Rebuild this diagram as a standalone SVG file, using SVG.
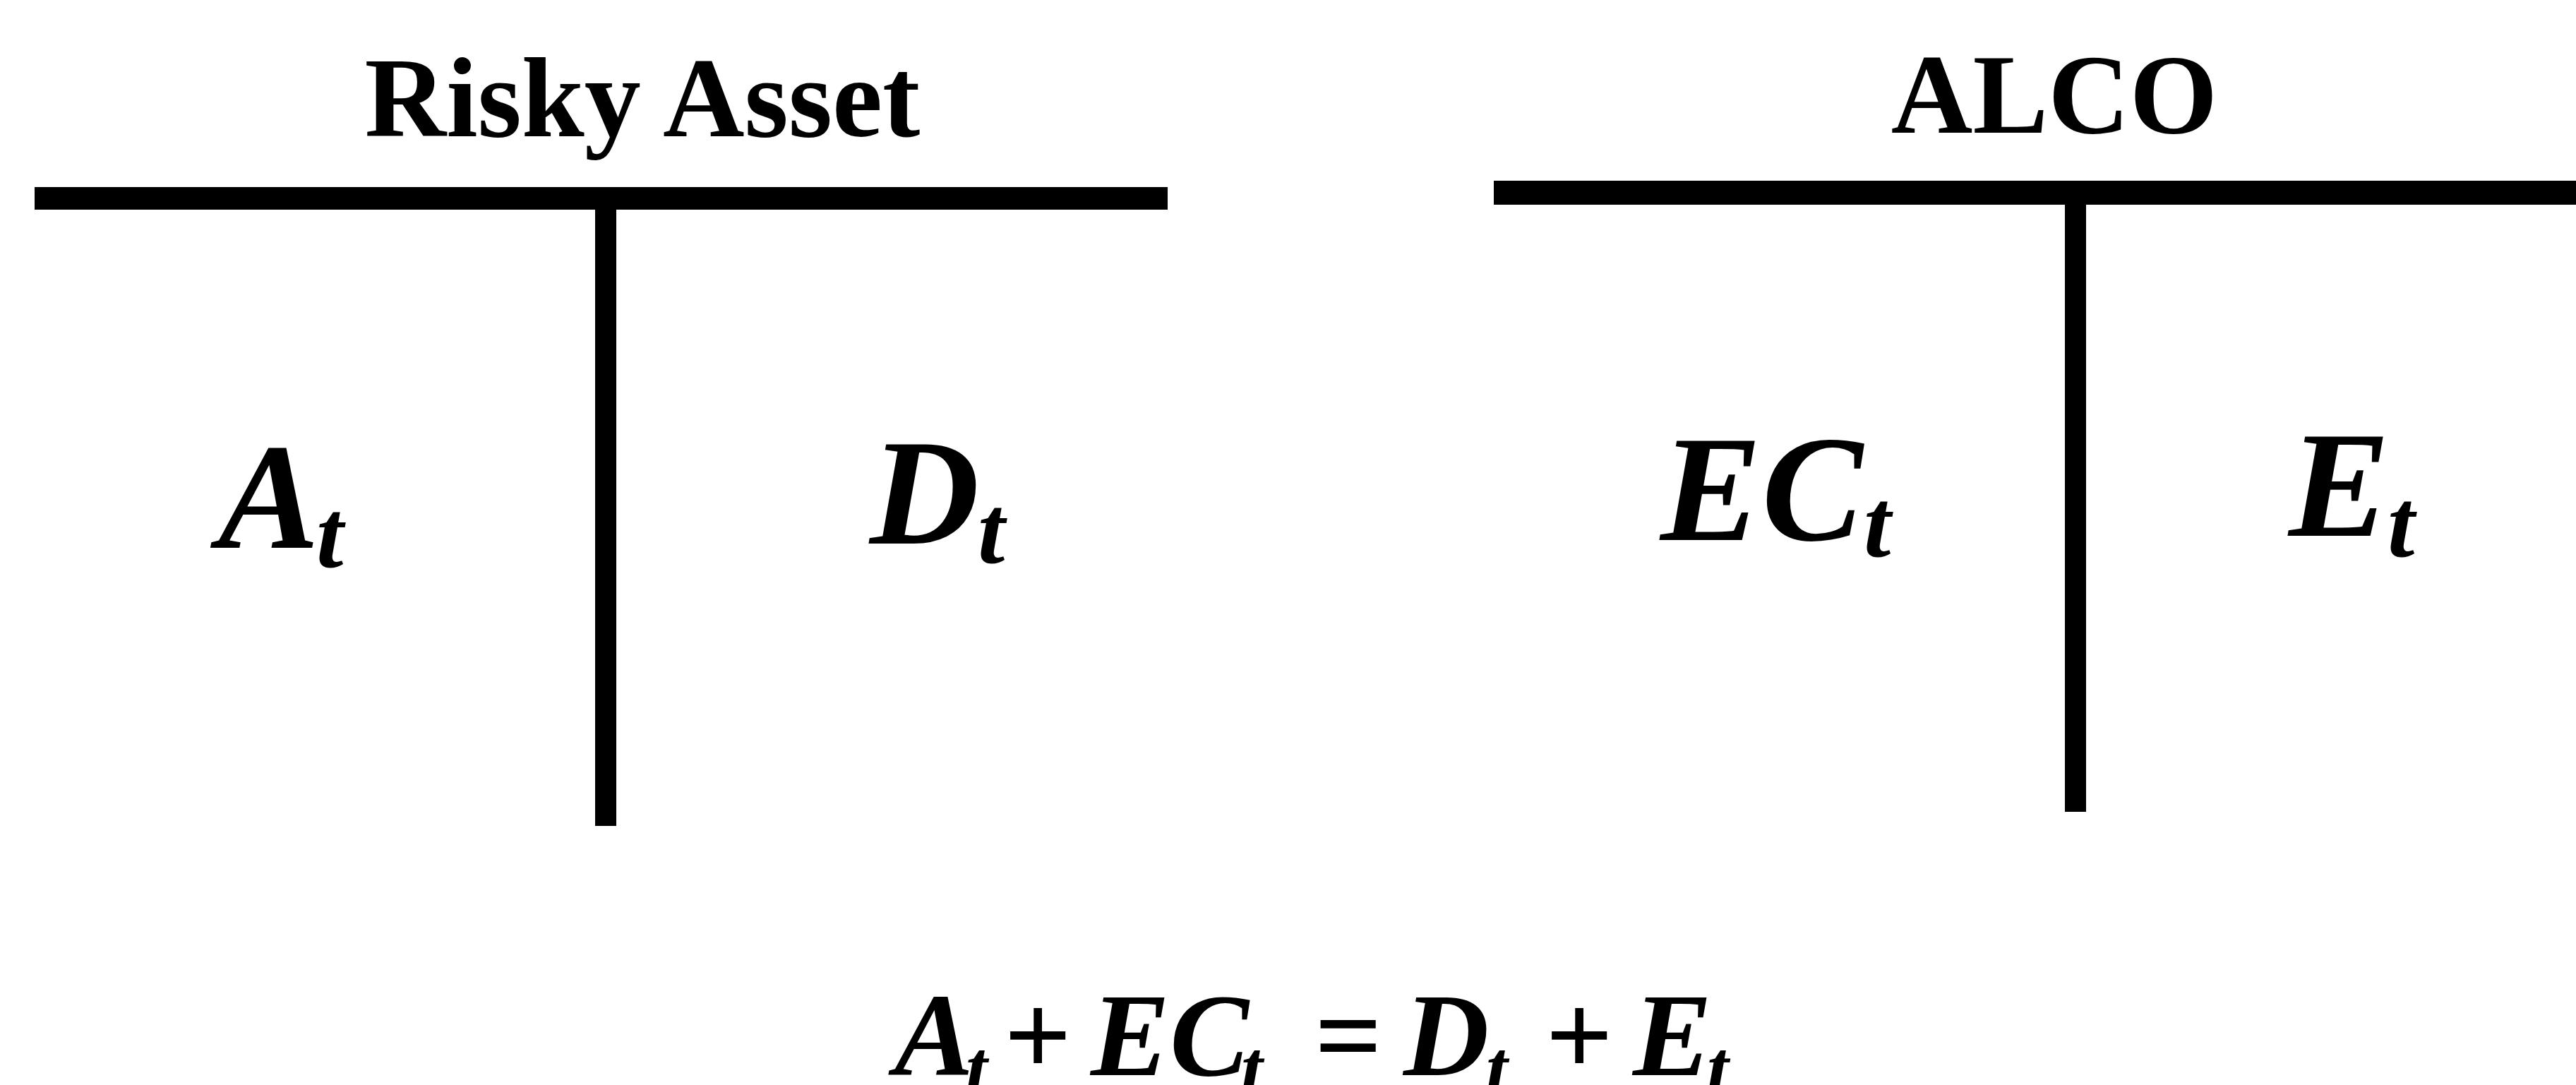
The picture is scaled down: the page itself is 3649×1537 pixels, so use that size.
<svg xmlns="http://www.w3.org/2000/svg" width="3649" height="1537" viewBox="0 0 3649 1537">
<style>
.title{font-family:"Liberation Serif","Times New Roman",serif;font-weight:bold;font-size:160px;fill:#000;text-anchor:middle}
.lab{font-family:"Liberation Serif","Times New Roman",serif;font-weight:bold;font-style:italic;font-size:215px;fill:#000}
.sub{font-family:"Liberation Serif","Times New Roman",serif;font-weight:bold;font-style:italic;font-size:138px;fill:#000}
.eq{font-family:"Liberation Serif","Times New Roman",serif;font-weight:bold;font-style:italic;font-size:168px;fill:#000}
.eqs{font-family:"Liberation Serif","Times New Roman",serif;font-weight:bold;font-style:italic;font-size:110px;fill:#000}
.op{font-family:"Liberation Serif","Times New Roman",serif;font-weight:bold;font-size:168px;fill:#000;text-anchor:middle}
.bar{fill:#000}
</style>
<rect width="3649" height="1537" fill="#fff"/>
<g id="risky-asset">
  <text class="title" x="910" y="193">Risky Asset</text>
  <rect class="bar" x="49" y="265" width="1605" height="32"/>
  <rect class="bar" x="843" y="281" width="30" height="889"/>
  <g id="left-debit"><text class="lab" x="309" y="776">A</text><text class="sub" x="448" y="803">t</text></g>
  <g id="left-credit"><text class="lab" x="1232" y="770">D</text><text class="sub" x="1385" y="797">t</text></g>
</g>
<g id="alco">
  <text class="title" x="2910" y="188">ALCO</text>
  <rect class="bar" x="2116" y="256" width="1533" height="34"/>
  <rect class="bar" x="2925" y="272" width="30" height="878"/>
  <g id="right-debit"><text class="lab" x="2352" y="765">EC</text><text class="sub" x="2640" y="788">t</text></g>
  <g id="right-credit"><text class="lab" x="3242" y="759">E</text><text class="sub" x="3382" y="788">t</text></g>
</g>
<g id="connectors"></g>
<g id="equation">
  <text class="eq" x="1267" y="1523">A</text><text class="eqs" x="1368" y="1550">t</text>
  <text class="op" x="1470" y="1523">+</text>
  <text class="eq" x="1545" y="1523">EC</text><text class="eqs" x="1758" y="1550">t</text>
  <text class="op" x="1910" y="1523">=</text>
  <text class="eq" x="1988" y="1523">D</text><text class="eqs" x="2105" y="1550">t</text>
  <text class="op" x="2237" y="1523">+</text>
  <text class="eq" x="2313" y="1523">E</text><text class="eqs" x="2418" y="1550">t</text>
</g>
</svg>
